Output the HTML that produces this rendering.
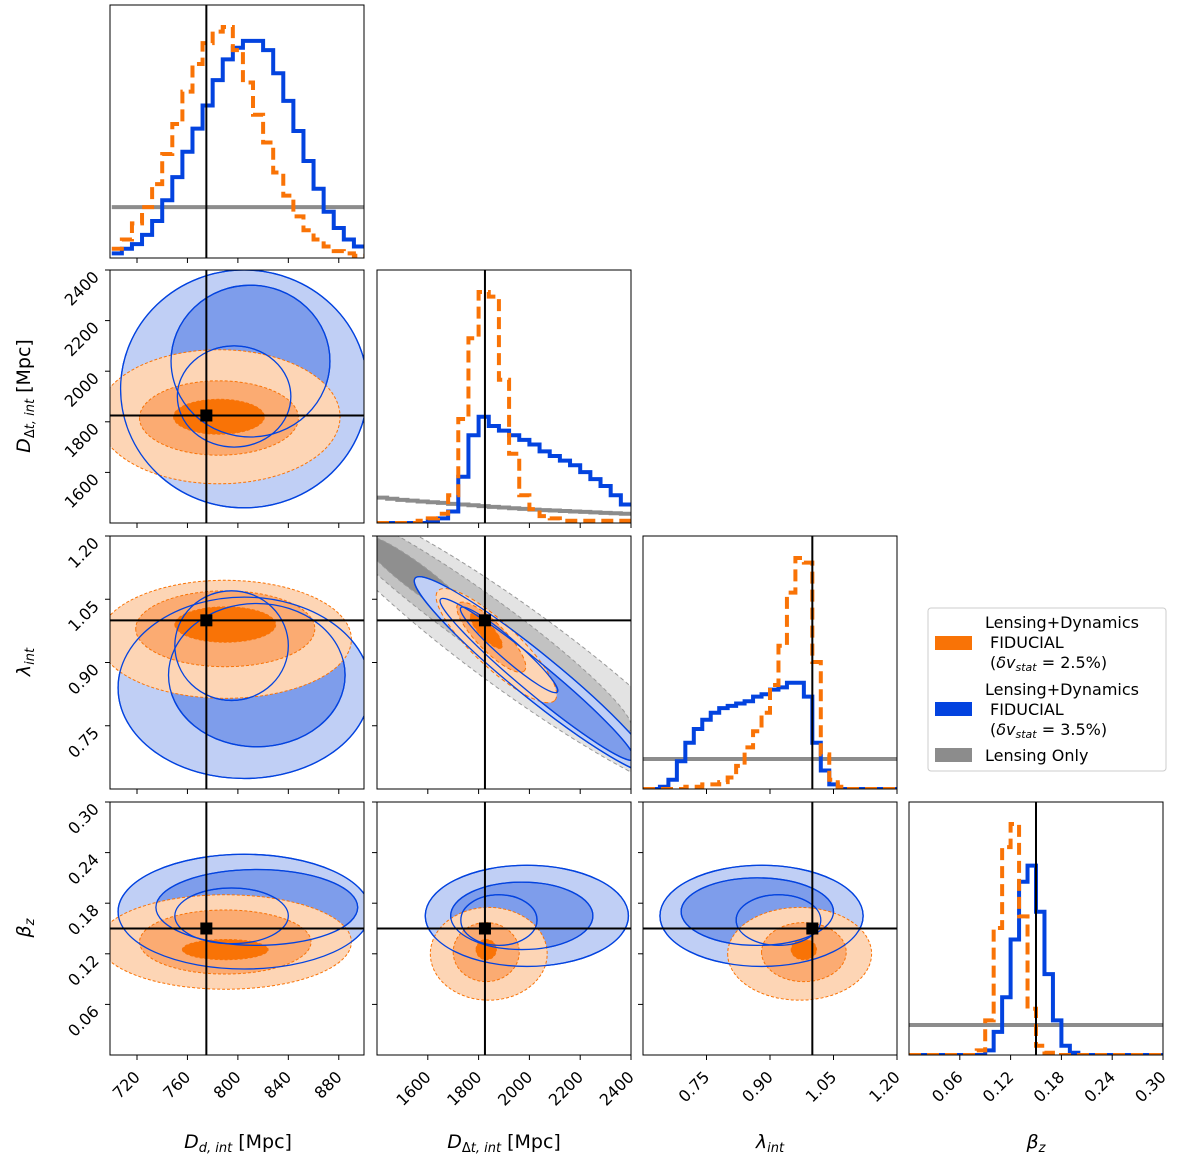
<!DOCTYPE html>
<html><head><meta charset="utf-8"><style>
html,body{margin:0;padding:0;background:#fff;}
svg{display:block;font-family:"DejaVu Sans","Liberation Sans",sans-serif;}
</style></head><body>
<svg id="chart" width="1200" height="1160" viewBox="0 0 1200 1160" xmlns="http://www.w3.org/2000/svg"></svg>
<script>
// ---------- DATA ----------
const paramNames = ["Dd", "Ddt", "lambda", "betaz"];
const paramRanges = [[698.6, 900], [1400, 2400], [0.6, 1.2], [0, 0.3]];
const truthValues = [775, 1825, 1.0, 0.15];
const ddTicks = [720, 760, 800, 840, 880];
const ddtTicks = [1600, 1800, 2000, 2200, 2400];
const lamTicks = [0.75, 0.90, 1.05, 1.20];
const betaTicks = [0.06, 0.12, 0.18, 0.24, 0.30];
const ddtTickLabels = ["1600", "1800", "2000", "2200", "2400"];
const lamTickLabels = ["0.75", "0.90", "1.05", "1.20"];
const betaTickLabels = ["0.06", "0.12", "0.18", "0.24", "0.30"];
const ddTickLabels = ["720", "760", "800", "840", "880"];

const ddBins = {start: 700, width: 8};
const ddOrange = [.04,.08,.15,.22,.32,.45,.58,.72,.84,.93,.98,1.0,.9,.76,.62,.5,.37,.27,.18,.12,.08,.05,.03,.02,.01];
const ddBlue = [.02,.04,.06,.1,.16,.25,.35,.46,.56,.66,.77,.86,.91,.94,.94,.9,.8,.68,.55,.42,.3,.2,.13,.08,.05];
const ddGray = [.22,.22,.22,.22,.22,.22,.22,.22,.22,.22,.22,.22,.22,.22,.22,.22,.22,.22,.22,.22,.22,.22,.22,.22,.22];

const ddtBins = {start: 1400, width: 40};
const ddtOrange = [0,0,0,0,.01,.02,.04,.12,.45,.8,1.0,.98,.62,.3,.12,.06,.03,.02,.01,.01,.01,.01,.01,.01,.01];
const ddtBlue = [0,0,0,0,0,.01,.02,.05,.2,.38,.46,.42,.4,.38,.36,.34,.31,.29,.27,.25,.22,.19,.16,.12,.08];
const ddtGray = [.11,.105,.1,.097,.093,.09,.087,.083,.08,.077,.073,.07,.067,.064,.061,.058,.056,.054,.052,.05,.048,.046,.044,.042,.04];

const lamBins = {start: 0.6, width: 0.02};
const lamOrange = [0,0,0,0,0,.01,.01,.02,.02,.03,.05,.1,.18,.25,.33,.45,.62,.85,1.0,.98,.55,.15,.04,.01,0,0,0,0,0,0];
const lamBlue = [0,0,.01,.04,.12,.2,.26,.3,.33,.35,.36,.37,.38,.4,.41,.43,.44,.46,.46,.4,.2,.08,.02,0,0,0,0,0,0,0];
const lamGray = [.13,.13,.13,.13,.13,.13,.13,.13,.13,.13,.13,.13,.13,.13,.13,.13,.13,.13,.13,.13,.13,.13,.13,.13,.13,.13,.13,.13,.13,.13];

const betaBins = {start: 0, width: 0.01};
const betaOrange = [0,0,0,0,0,0,0,0,.02,.15,.55,.9,1.0,.6,.2,.04,.01,0,0,0,0,0,0,0,0,0,0,0,0,0];
const betaBlue = [0,0,0,0,0,0,0,0,0,.02,.1,.25,.5,.75,.82,.62,.35,.15,.04,.01,0,0,0,0,0,0,0,0,0,0];
const betaGray = [.13,.13,.13,.13,.13,.13,.13,.13,.13,.13,.13,.13,.13,.13,.13,.13,.13,.13,.13,.13,.13,.13,.13,.13,.13,.13,.13,.13,.13,.13];

const c_Dd_Ddt_blue = [[805,1930,98,470],[810,2040,63,300],[797,1900,45,200]];
const c_Dd_Ddt_orange = [[785,1820,96,265],[785,1815,63,147],[785,1820,36,69]];
const c_Dd_lam_blue = [[805,0.84,100,0.215],[815,0.87,70,0.17],[795,0.94,45,0.13]];
const c_Dd_lam_orange = [[790,0.955,100,0.14],[790,0.98,71,0.09],[790,0.99,40,0.042]];
const c_Dd_beta_blue = [[805,0.17,100,0.068],[815,0.175,80,0.045],[795,0.165,45,0.033]];
const c_Dd_beta_orange = [[790,0.134,100,0.056],[790,0.134,68,0.038],[790,0.125,34,0.012]];
const c_Ddt_beta_blue = [[1990,0.165,400,0.06],[1970,0.165,280,0.04],[1880,0.16,150,0.03]];
const c_Ddt_beta_orange = [[1840,0.12,230,0.055],[1830,0.122,130,0.035],[1830,0.125,40,0.012]];
const c_lam_beta_blue = [[0.88,0.165,0.24,0.06],[0.87,0.17,0.18,0.04],[0.92,0.16,0.1,0.03]];
const c_lam_beta_orange = [[0.97,0.12,0.17,0.055],[0.98,0.122,0.1,0.035],[0.98,0.125,0.03,0.012]];
const c_Ddt_lam_gray = [[1950,0.93,800,-0.35,42],[1800,1.0,600,-0.26,27],[1560,1.1,220,-0.1,13]];
const c_Ddt_lam_blue = [[2020,0.87,470,-0.23,22],[2030,0.86,380,-0.19,15],[1920,0.93,190,-0.1,10]];
const c_Ddt_lam_orange = [[1870,0.94,230,-0.13,22],[1850,0.96,130,-0.08,14],[1830,0.975,60,-0.04,7]];

// ---------- LAYOUT ----------
const X0 = [110, 377, 643, 909], Y0 = [5, 270, 536, 802], W = 254, H = 253;
const COL = {orange: "#f97306", blue: "#0343df", gray: "#8c8c8c"};
const FILL = {
  orange: ["#fdd5b5", "#fbab72", "#f97306"],
  blue: ["#c0cff5", "#7e9deb", "#2a5de6"],
  gray: ["#e3e3e3", "#c2c2c2", "#8f8f8f"]
};
const svg = document.getElementById("chart");
const NS = "http://www.w3.org/2000/svg";
function mk(tag, attrs, parent) {
  const e = document.createElementNS(NS, tag);
  for (const k in attrs) e.setAttribute(k, attrs[k]);
  (parent || svg).appendChild(e);
  return e;
}
function sx(i, v) { const r = paramRanges[i]; return X0[i] + (v - r[0]) / (r[1] - r[0]) * W; }
function sy(j, v) { const r = paramRanges[j]; return Y0[j] + H - (v - r[0]) / (r[1] - r[0]) * H; }

const defs = mk("defs", {});
function clipFor(i, j) {
  const id = "clip" + i + "_" + j;
  const cp = mk("clipPath", {id: id}, defs);
  mk("rect", {x: X0[i], y: Y0[j], width: W, height: H}, cp);
  return "url(#" + id + ")";
}
function ellPath(cx, cy, rx, ry) {
  return `M${cx - rx},${cy} a${rx},${ry} 0 1,0 ${2 * rx},0 a${rx},${ry} 0 1,0 ${-2 * rx},0 Z`;
}
function drawEllipses(g, i, j, levels, color, mode) {
  levels.forEach((L, k) => {
    const cx = sx(i, L[0]), cy = sy(j, L[1]);
    const rx = sx(i, L[0] + L[2]) - cx, ry = cy - sy(j, L[1] + L[3]);
    const p = mk("path", {d: ellPath(cx, cy, rx, ry)}, g);
    
    
    if (mode === "fill") { p.setAttribute("fill", FILL[color][k]); p.setAttribute("stroke", COL[color]); p.setAttribute("stroke-width", "1"); p.setAttribute("stroke-dasharray", "3,2"); }
    else if (mode === "fillsolid") { p.setAttribute("fill", k < 2 ? FILL[color][k] : "none"); p.setAttribute("stroke", COL[color]); p.setAttribute("stroke-width", "1.3"); }
    else { p.setAttribute("fill", "none"); p.setAttribute("stroke", COL[color]); p.setAttribute("stroke-width", "1.3"); }
  });
}
function drawRotated(g, i, j, levels, color, mode) {
  levels.forEach((L, k) => {
    const cx = sx(i, L[0]), cy = sy(j, L[1]);
    const ex = sx(i, L[0] + L[2]) - cx, ey = sy(j, L[1] + L[3]) - cy;
    const a = Math.sqrt(ex * ex + ey * ey), ang = Math.atan2(ey, ex) * 180 / Math.PI;
    const e = mk("ellipse", {cx: cx, cy: cy, rx: a, ry: L[4], transform: `rotate(${ang} ${cx} ${cy})`}, g);
    
    
    if (mode === "fill") { e.setAttribute("fill", FILL[color][k]); e.setAttribute("stroke", color === "gray" ? "#999" : COL[color]); e.setAttribute("stroke-width", "1"); e.setAttribute("stroke-dasharray", "4,3"); }
    else if (mode === "fillsolid") { e.setAttribute("fill", k < 2 ? FILL[color][k] : "none"); e.setAttribute("stroke", COL[color]); e.setAttribute("stroke-width", "1.3"); }
    else { e.setAttribute("fill", "none"); e.setAttribute("stroke", COL[color]); e.setAttribute("stroke-width", "1.3"); }
  });
}
function histPath(i, bins, vals) {
  const bottom = Y0[i] + H, scale = 231;
  let d = "";
  vals.forEach((v, k) => {
    const x1 = sx(i, bins.start + k * bins.width), x2 = sx(i, bins.start + (k + 1) * bins.width);
    const y = bottom - v * scale;
    d += (k === 0 ? `M${x1},${y}` : `L${x1},${y}`) + `L${x2},${y}`;
  });
  return d;
}
function drawHist(i, bins, orange, blue, gray) {
  const g = mk("g", {"clip-path": clipFor(i, i)});
  
  
  const pg = mk("path", {d: histPath(i, bins, gray), fill: "none", stroke: COL.gray, "stroke-width": 4}, g);
  
  
  const pb = mk("path", {d: histPath(i, bins, blue), fill: "none", stroke: COL.blue, "stroke-width": 4}, g);
  
  
  const po = mk("path", {d: histPath(i, bins, orange), fill: "none", stroke: COL.orange, "stroke-width": 4, "stroke-dasharray": "12,6"}, g);
  
  
  const tl = mk("line", {x1: sx(i, truthValues[i]), x2: sx(i, truthValues[i]), y1: Y0[i], y2: Y0[i] + H, stroke: "#000", "stroke-width": 2}, g);
  
  
}
function drawPanel2D(i, j, draw) {
  const g = mk("g", {"clip-path": clipFor(i, j)});
  
  
  draw(g);
  const tx = sx(i, truthValues[i]), ty = sy(j, truthValues[j]);
  const v = mk("line", {x1: tx, x2: tx, y1: Y0[j], y2: Y0[j] + H, stroke: "#000", "stroke-width": 2}, g);
  
  
  const h = mk("line", {x1: X0[i], x2: X0[i] + W, y1: ty, y2: ty, stroke: "#000", "stroke-width": 2}, g);
  
  
  const m = mk("rect", {x: tx - 6, y: ty - 6, width: 12, height: 12, fill: "#000"}, g);
  
  
}

drawHist(0, ddBins, ddOrange, ddBlue, ddGray);
drawHist(1, ddtBins, ddtOrange, ddtBlue, ddtGray);
drawHist(2, lamBins, lamOrange, lamBlue, lamGray);
drawHist(3, betaBins, betaOrange, betaBlue, betaGray);

drawPanel2D(0, 1, g => { drawEllipses(g, 0, 1, c_Dd_Ddt_blue, "blue", "fillsolid"); drawEllipses(g, 0, 1, c_Dd_Ddt_orange, "orange", "fill"); drawEllipses(g, 0, 1, c_Dd_Ddt_blue, "blue", "line"); });
drawPanel2D(0, 2, g => { drawEllipses(g, 0, 2, c_Dd_lam_blue, "blue", "fillsolid"); drawEllipses(g, 0, 2, c_Dd_lam_orange, "orange", "fill"); drawEllipses(g, 0, 2, c_Dd_lam_blue, "blue", "line"); });
drawPanel2D(0, 3, g => { drawEllipses(g, 0, 3, c_Dd_beta_blue, "blue", "fillsolid"); drawEllipses(g, 0, 3, c_Dd_beta_orange, "orange", "fill"); drawEllipses(g, 0, 3, c_Dd_beta_blue, "blue", "line"); });
drawPanel2D(1, 2, g => { drawRotated(g, 1, 2, c_Ddt_lam_gray, "gray", "fill"); drawRotated(g, 1, 2, c_Ddt_lam_blue, "blue", "fillsolid"); drawRotated(g, 1, 2, c_Ddt_lam_orange, "orange", "fill"); drawRotated(g, 1, 2, c_Ddt_lam_blue, "blue", "line"); });
drawPanel2D(1, 3, g => { drawEllipses(g, 1, 3, c_Ddt_beta_blue, "blue", "fillsolid"); drawEllipses(g, 1, 3, c_Ddt_beta_orange, "orange", "fill"); drawEllipses(g, 1, 3, c_Ddt_beta_blue, "blue", "line"); });
drawPanel2D(2, 3, g => { drawEllipses(g, 2, 3, c_lam_beta_blue, "blue", "fillsolid"); drawEllipses(g, 2, 3, c_lam_beta_orange, "orange", "fill"); drawEllipses(g, 2, 3, c_lam_beta_blue, "blue", "line"); });

const tickSets = [ddTicks, ddtTicks, lamTicks, betaTicks];
const tickLabelSets = [ddTickLabels, ddtTickLabels, lamTickLabels, betaTickLabels];
for (let j = 0; j < 4; j++) {
  for (let i = 0; i <= j; i++) {
    const fr = mk("rect", {x: X0[i], y: Y0[j], width: W, height: H, fill: "none", stroke: "#000", "stroke-width": 1});
    
    
    tickSets[i].forEach((t, k) => {
      const x = sx(i, t);
      mk("line", {x1: x, x2: x, y1: Y0[j] + H, y2: Y0[j] + H + 5, stroke: "#000", "stroke-width": 1});
      if (j === 3) {
        const tx = mk("text", {x: x + 4, y: 1078, "font-size": 16, "text-anchor": "end", transform: `rotate(-45 ${x + 4} 1078)`});
        tx.textContent = tickLabelSets[i][k];
        
        
      }
    });
    if (i !== j) {
      tickSets[j].forEach((t, k) => {
        const y = sy(j, t);
        mk("line", {x1: X0[i] - 5, x2: X0[i], y1: y, y2: y, stroke: "#000", "stroke-width": 1});
        if (i === 0) {
          const ty = mk("text", {x: 100, y: y + 8, "font-size": 16, "text-anchor": "end", transform: `rotate(-45 100 ${y + 8})`});
          ty.textContent = tickLabelSets[j][k];
          
          
        }
      });
    }
  }
}

function label(x, y, html, rot, name) {
  const t = mk("text", {x: x, y: y, "font-size": 19, "text-anchor": "middle"});
  if (rot) t.setAttribute("transform", `rotate(-90 ${x} ${y})`);
  t.innerHTML = html;
  
  
}
label(238, 1148, '<tspan font-style="italic">D</tspan><tspan font-size="13" dy="4" font-style="italic">d, int</tspan><tspan dy="-4"> [Mpc]</tspan>', false, "x-axis-title-dd");
label(504, 1148, '<tspan font-style="italic">D</tspan><tspan font-size="13" dy="4">Δ<tspan font-style="italic">t, int</tspan></tspan><tspan dy="-4"> [Mpc]</tspan>', false, "x-axis-title-ddt");
label(770, 1148, '<tspan font-style="italic">λ</tspan><tspan font-size="13" dy="4" font-style="italic">int</tspan>', false, "x-axis-title-lambda");
label(1036, 1148, '<tspan font-style="italic">β</tspan><tspan font-size="13" dy="4" font-style="italic">z</tspan>', false, "x-axis-title-beta");
label(30, 396, '<tspan font-style="italic">D</tspan><tspan font-size="13" dy="4">Δ<tspan font-style="italic">t, int</tspan></tspan><tspan dy="-4"> [Mpc]</tspan>', true, "y-axis-title-ddt");
label(30, 662, '<tspan font-style="italic">λ</tspan><tspan font-size="13" dy="4" font-style="italic">int</tspan>', true, "y-axis-title-lambda");
label(30, 928, '<tspan font-style="italic">β</tspan><tspan font-size="13" dy="4" font-style="italic">z</tspan>', true, "y-axis-title-beta");

const lg = mk("g", {});


mk("rect", {x: 928, y: 608, width: 238, height: 163, rx: 3, fill: "#fff", stroke: "#ccc", "stroke-width": 1}, lg);
const entries = [
  {c: COL.orange, y: 643, lines: ["Lensing+Dynamics", " FIDUCIAL", "(<tspan font-style='italic'>δv</tspan><tspan font-size='11' dy='3' font-style='italic'>stat</tspan><tspan dy='-3'> = 2.5%)</tspan>"], ty: 628, n: "legend-entry-fiducial-2.5"},
  {c: COL.blue, y: 709, lines: ["Lensing+Dynamics", " FIDUCIAL", "(<tspan font-style='italic'>δv</tspan><tspan font-size='11' dy='3' font-style='italic'>stat</tspan><tspan dy='-3'> = 3.5%)</tspan>"], ty: 695, n: "legend-entry-fiducial-3.5"},
  {c: COL.gray, y: 755, lines: ["Lensing Only"], ty: 761, n: "legend-entry-lensing-only"}
];
entries.forEach(e => {
  const g = mk("g", {}, lg);
  
  
  mk("rect", {x: 935, y: e.y - 7, width: 37, height: 14, fill: e.c}, g);
  e.lines.forEach((l, k) => {
    const t = mk("text", {x: k === 0 || e.lines.length === 1 ? 985 : 990, y: e.ty + k * 20, "font-size": 16, "xml:space": "preserve"}, g);
    t.innerHTML = l;
  });
});
</script>
</body></html>
